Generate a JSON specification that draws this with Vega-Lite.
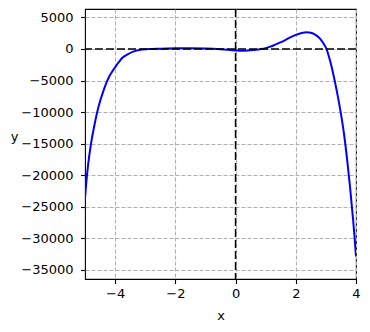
{
  "$schema": "https://vega.github.io/schema/vega-lite/v6.json",
  "width": 271,
  "height": 270,
  "autosize": "none",
  "padding": {"left": 85, "top": 9, "right": 14, "bottom": 53},
  "background": "white",
  "config": {
    "view": {"stroke": "black", "strokeWidth": 1.1},
    "font": "DejaVu Sans",
    "axis": {
      "domain": false,
      "tickColor": "black",
      "tickSize": 4.5,
      "tickWidth": 1.1,
      "labelFont": "DejaVu Sans",
      "labelFontSize": 13,
      "labelColor": "black",
      "labelFlush": false,
      "labelOverlap": false,
      "titleFont": "DejaVu Sans",
      "titleFontSize": 13,
      "titleFontWeight": "normal",
      "titleColor": "black",
      "gridColor": "#b0b0b0",
      "gridDash": [4, 2],
      "gridWidth": 1.1
    }
  },
  "datasets": {
    "curve": [
      {"x": -5.0, "y": -23700},
      {"x": -4.95, "y": -20800},
      {"x": -4.9, "y": -18500},
      {"x": -4.8, "y": -15000},
      {"x": -4.7, "y": -12400},
      {"x": -4.6, "y": -10100},
      {"x": -4.5, "y": -8300},
      {"x": -4.4, "y": -6800},
      {"x": -4.3, "y": -5500},
      {"x": -4.2, "y": -4400},
      {"x": -4.1, "y": -3600},
      {"x": -4.0, "y": -2900},
      {"x": -3.88, "y": -2100},
      {"x": -3.76, "y": -1400},
      {"x": -3.6, "y": -900},
      {"x": -3.42, "y": -450},
      {"x": -3.2, "y": -160},
      {"x": -2.9, "y": -20},
      {"x": -2.5, "y": 50},
      {"x": -2.0, "y": 100},
      {"x": -1.5, "y": 110},
      {"x": -1.0, "y": 70},
      {"x": -0.5, "y": -40},
      {"x": 0.0, "y": -230},
      {"x": 0.2, "y": -280},
      {"x": 0.4, "y": -250},
      {"x": 0.6, "y": -170},
      {"x": 0.8, "y": -40},
      {"x": 1.0, "y": 130},
      {"x": 1.13, "y": 330},
      {"x": 1.3, "y": 650},
      {"x": 1.47, "y": 1000},
      {"x": 1.65, "y": 1420},
      {"x": 1.8, "y": 1800},
      {"x": 2.0, "y": 2230},
      {"x": 2.2, "y": 2550},
      {"x": 2.36, "y": 2650},
      {"x": 2.5, "y": 2560},
      {"x": 2.63, "y": 2330},
      {"x": 2.75, "y": 1900},
      {"x": 2.85, "y": 1380},
      {"x": 2.95, "y": 650},
      {"x": 3.02, "y": 0},
      {"x": 3.1, "y": -1200},
      {"x": 3.2, "y": -3000},
      {"x": 3.3, "y": -5200},
      {"x": 3.4, "y": -7600},
      {"x": 3.5, "y": -10300},
      {"x": 3.6, "y": -13400},
      {"x": 3.7, "y": -17300},
      {"x": 3.8, "y": -21800},
      {"x": 3.9, "y": -26900},
      {"x": 3.95, "y": -29700},
      {"x": 4.0, "y": -32900}
    ]
  },
  "layer": [
    {
      "data": {"name": "curve"},
      "mark": {"type": "line", "color": "#0000ff", "strokeWidth": 2, "interpolate": "monotone", "clip": true},
      "encoding": {
        "x": {
          "field": "x",
          "type": "quantitative",
          "scale": {"domain": [-5, 4], "nice": false, "zero": false},
          "axis": {
            "values": [-4, -2, 0, 2, 4],
            "title": "x",
            "labelOverlap": false,
            "labelPadding": 4,
            "titleY": 40,
            "titleBaseline": "alphabetic"
          }
        },
        "y": {
          "field": "y",
          "type": "quantitative",
          "scale": {"domain": [-36470, 6340], "nice": false, "zero": false},
          "axis": {
            "values": [-35000, -30000, -25000, -20000, -15000, -10000, -5000, 0, 5000],
            "format": "d",
            "title": "y",
            "labelOverlap": false,
            "labelPadding": 7.5,
            "titleAngle": 0,
            "titleX": -71,
            "titleY": 131,
            "titleAlign": "center",
            "titleBaseline": "alphabetic"
          }
        }
      }
    },
    {
      "data": {"values": [{"y0": 0}]},
      "mark": {"type": "rule", "color": "black", "strokeWidth": 1.5, "strokeDash": [8, 3]},
      "encoding": {
        "y": {
          "field": "y0",
          "type": "quantitative",
          "axis": {
            "values": [-35000, -30000, -25000, -20000, -15000, -10000, -5000, 0, 5000],
            "format": "d",
            "title": "y",
            "labelOverlap": false,
            "labelPadding": 7.5,
            "titleAngle": 0,
            "titleX": -71,
            "titleY": 131,
            "titleAlign": "center",
            "titleBaseline": "alphabetic"
          }
        }
      }
    },
    {
      "data": {"values": [{"x0": 0}]},
      "mark": {"type": "rule", "color": "black", "strokeWidth": 1.5, "strokeDash": [8, 3]},
      "encoding": {
        "x": {
          "field": "x0",
          "type": "quantitative",
          "axis": {
            "values": [-4, -2, 0, 2, 4],
            "title": "x",
            "labelOverlap": false,
            "labelPadding": 4,
            "titleY": 40,
            "titleBaseline": "alphabetic"
          }
        }
      }
    }
  ]
}
